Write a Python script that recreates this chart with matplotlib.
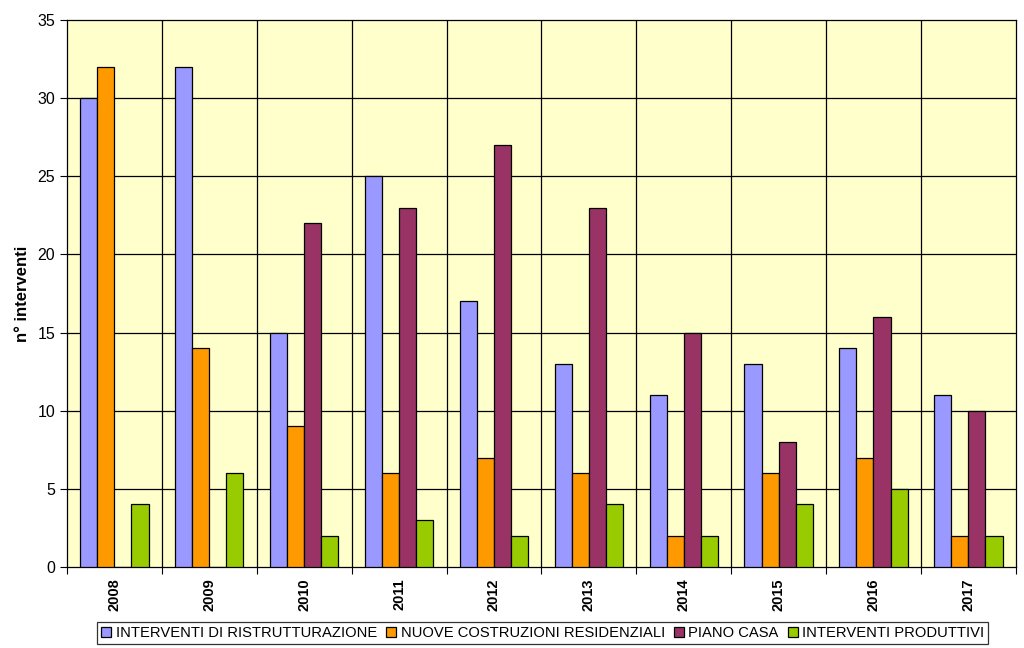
import matplotlib
matplotlib.use("Agg")
import matplotlib.pyplot as plt
import numpy as np

years = ["2008", "2009", "2010", "2011", "2012", "2013", "2014", "2015", "2016", "2017"]
ristrutturazione = [30, 32, 15, 25, 17, 13, 11, 13, 14, 11]
nuove_costruzioni = [32, 14, 9, 6, 7, 6, 2, 6, 7, 2]
piano_casa = [0, 0, 22, 23, 27, 23, 15, 8, 16, 10]
produttivi = [4, 6, 2, 3, 2, 4, 2, 4, 5, 2]
series_names = ["INTERVENTI DI RISTRUTTURAZIONE", "NUOVE COSTRUZIONI RESIDENZIALI",
                "PIANO CASA", "INTERVENTI PRODUTTIVI"]
colors = ["#9999FF", "#FF9900", "#993366", "#99CC00"]
yticks = [0, 5, 10, 15, 20, 25, 30, 35]

plt.rcParams['font.family'] = ['Liberation Sans', 'DejaVu Sans']
fig = plt.figure(figsize=(10.24, 6.48), dpi=100)
ax = fig.add_axes([0.0654, 0.125, 0.9266, 0.844])
ax.set_facecolor("#FFFFCC")

x = np.arange(len(years))
w = 0.18
data = [ristrutturazione, nuove_costruzioni, piano_casa, produttivi]
for i, (vals, c, name) in enumerate(zip(data, colors, series_names)):
    ax.bar(x + (i - 1.5) * w, vals, width=w, color=c, edgecolor="black",
           linewidth=0.9, label=name, zorder=3)

ax.set_xlim(-0.5, len(years) - 0.5)
ax.set_ylim(0, 35)
ax.set_yticks(yticks)
ax.set_yticklabels([str(v) for v in yticks], fontsize=11.5)
for y in yticks[1:-1]:
    ax.axhline(y, color="black", linewidth=0.9, zorder=1)
for b in np.arange(0.5, len(years) - 0.5, 1):
    ax.axvline(b, color="black", linewidth=0.9, zorder=1)

ax.set_xticks(np.arange(-0.5, len(years), 1), minor=False)
ax.set_xticklabels([])
ax.set_xticks(x, minor=True)
ax.set_xticklabels(years, minor=True, rotation=90, fontsize=10.5, fontweight="bold")
ax.tick_params(axis="x", which="minor", length=0, pad=8)
ax.tick_params(axis="x", which="major", length=5, direction="out")
ax.tick_params(axis="y", length=5, direction="out")

for s in ax.spines.values():
    s.set_linewidth(0.9)

ax.set_ylabel("n° interventi", fontsize=12, fontweight="bold", labelpad=5)

leg = fig.legend(loc="center", bbox_to_anchor=(0.53, 0.023), ncol=4, fontsize=10.6,
                 frameon=True, fancybox=False, edgecolor="black", handlelength=0.7,
                 handleheight=0.7, handletextpad=0.3, columnspacing=0.6,
                 borderpad=0.25)
leg.get_frame().set_linewidth(0.9)

fig.savefig("out.png", dpi=100, facecolor="white")
